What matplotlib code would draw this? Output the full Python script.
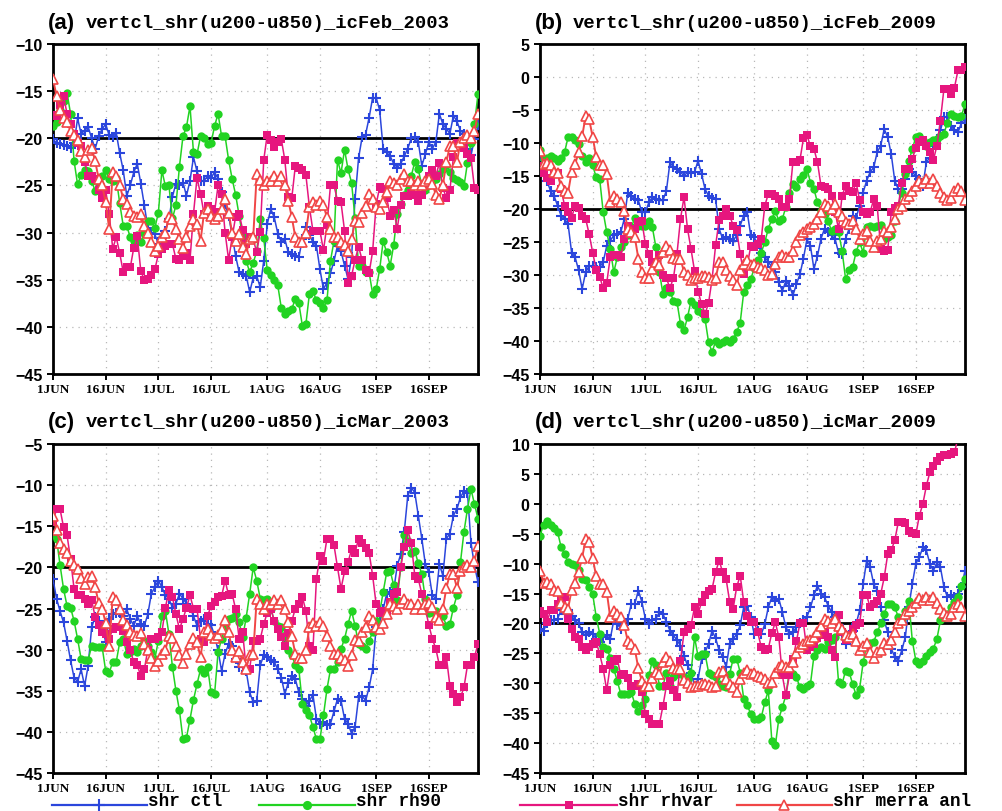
import numpy as np
import matplotlib
matplotlib.use("Agg")
import matplotlib.pyplot as plt
from matplotlib.lines import Line2D

# day index 0 = 1 JUN ... 121 = 30 SEP
tick_days = [0, 15, 30, 45, 61, 76, 92, 107]
tick_labels = ["1JUN", "16JUN", "1JUL", "16JUL", "1AUG", "16AUG", "1SEP", "16SEP"]
series_labels = ["shr ctl", "shr rh90", "shr rhvar", "shr merra anl"]

# merra analysis (same for both initial conditions of a year)
merra_2003 = [
    -13.7, -15.5, -17.0, -17.8, -18.3, -19.2, -19.7, -20.2, -21.3, -22.0,
    -21.2, -21.0, -22.4, -24.3, -25.0, -26.8, -29.6, -23.6, -24.0, -25.0,
    -26.4, -27.0, -27.8, -28.2, -28.4, -28.0, -29.3, -30.0, -31.0, -32.0,
    -31.4, -30.5, -30.0, -28.4, -28.6, -29.6, -30.7, -31.6, -30.5, -29.3,
    -28.6, -29.1, -30.9, -27.9, -27.5, -28.2, -28.6, -28.2, -27.5, -26.4,
    -27.9, -30.0, -30.9, -30.2, -31.5, -32.3, -30.7, -30.5, -23.8, -24.4,
    -25.0, -24.5, -24.5, -24.0, -24.5, -24.0, -25.0, -26.6, -28.4, -30.5,
    -31.0, -31.0, -30.0, -27.3, -26.8, -27.1, -26.6, -27.1, -28.4, -29.6,
    -30.5, -30.5, -31.0, -31.3, -32.0, -30.7, -28.8, -28.9, -27.9, -27.2,
    -25.9, -26.4, -27.3, -27.5, -26.8, -25.7, -24.5, -24.7, -25.0, -24.3,
    -23.8, -24.5, -24.5, -25.0, -24.5, -25.0, -24.5, -24.3, -24.8, -26.0,
    -26.4, -25.0, -22.5, -20.8, -20.8, -22.5, -20.4, -20.0, -19.7, -20.0,
    -19.2, -17.4]
merra_2009 = [
    -11.2, -13.2, -13.0, -13.4, -14.4, -14.5, -16.5, -17.2, -17.5, -14.4,
    -13.2, -11.4, -9.0, -5.9, -6.4, -9.1, -12.1, -13.4, -13.4, -14.7,
    -19.0, -18.0, -18.5, -19.0, -20.3, -23.0, -23.5, -24.3, -27.5, -29.6,
    -30.4, -30.4, -29.1, -28.1, -28.5, -26.5, -25.6, -26.2, -27.4, -27.6,
    -27.6, -29.5, -30.0, -30.7, -30.4, -30.4, -30.1, -30.1, -30.3, -30.7,
    -30.5, -28.1, -28.0, -29.3, -30.2, -30.7, -31.5, -29.3, -28.3, -27.8,
    -28.5, -28.3, -28.8, -29.0, -29.3, -30.0, -29.8, -28.3, -27.3, -27.0,
    -27.2, -27.2, -26.4, -25.0, -24.0, -23.5, -23.0, -22.8, -22.3, -21.5,
    -20.5, -19.2, -19.6, -20.0, -19.3, -20.5, -21.0, -22.0, -22.3, -21.8,
    -23.0, -24.5, -23.8, -23.3, -24.8, -25.8, -24.8, -24.5, -23.3, -23.5,
    -22.8, -21.5, -20.0, -19.5, -18.5, -18.0, -17.2, -16.5, -15.7, -16.0,
    -15.5, -16.0, -15.5, -16.5, -17.5, -18.2, -18.7, -18.4, -17.3, -16.8,
    -17.3, -18.7]

# (a) icFeb 2003
ctl_feb03 = [
    -20.1, -20.5, -20.6, -20.7, -20.8, -21.0, -20.5, -17.9, -19.5, -19.2,
    -18.8, -20.0, -21.1, -19.8, -19.0, -18.5, -19.7, -19.9, -19.4, -21.6,
    -23.4, -26.1, -25.0, -23.6, -22.7, -24.8, -27.1, -29.5, -30.0, -30.2,
    -31.2, -30.6, -29.8, -28.6, -26.2, -24.8, -25.0, -24.7, -26.1, -24.5,
    -22.0, -23.5, -24.5, -24.5, -24.0, -24.2, -23.6, -24.3, -25.7, -27.0,
    -28.2, -30.3, -32.5, -34.2, -34.4, -34.6, -36.3, -34.8, -34.6, -35.8,
    -33.0, -29.1, -27.5, -28.4, -30.1, -31.0, -30.7, -32.1, -32.3, -32.5,
    -32.6, -30.7, -29.4, -30.3, -31.0, -31.4, -33.9, -36.0, -35.3, -34.3,
    -33.0, -31.4, -32.0, -33.5, -34.9, -32.6, -26.4, -22.1, -19.9, -19.6,
    -17.8, -15.7, -15.7, -17.0, -21.1, -21.5, -21.9, -22.7, -23.1, -22.7,
    -21.9, -21.1, -20.0, -19.9, -20.4, -22.9, -21.7, -20.4, -21.1, -20.4,
    -17.4, -18.5, -19.0, -19.5, -17.6, -18.2, -19.2, -19.5, -21.1, -21.8,
    -20.1, -18.6]
rh90_feb03 = [
    -18.7, -18.3, -17.0, -16.0, -15.2, -17.4, -22.4, -24.9, -23.9, -23.4,
    -23.5, -24.5, -25.6, -25.0, -24.0, -23.4, -24.3, -24.5, -24.2, -26.9,
    -29.3, -29.3, -30.5, -30.9, -30.3, -31.0, -30.0, -28.8, -28.8, -29.5,
    -27.9, -23.4, -25.1, -25.0, -28.5, -27.1, -23.0, -19.8, -18.8, -16.6,
    -21.5, -21.7, -19.8, -20.0, -20.6, -20.5, -18.7, -17.4, -19.8, -19.8,
    -22.3, -24.3, -26.0, -28.2, -30.5, -33.0, -34.2, -33.2, -32.0, -28.6,
    -30.6, -34.0, -34.5, -35.0, -35.6, -38.0, -38.6, -38.3, -38.1, -37.0,
    -37.5, -39.9, -39.7, -36.5, -36.2, -37.2, -37.5, -38.0, -37.2, -33.0,
    -30.9, -22.3, -23.7, -21.2, -23.3, -24.7, -28.5, -33.5, -33.5, -34.2,
    -34.2, -36.5, -36.0, -33.9, -30.9, -32.1, -33.5, -31.3, -28.0, -27.0,
    -26.0, -25.5, -24.0, -22.5, -23.3, -25.0, -25.5, -25.0, -24.5, -24.3,
    -23.8, -23.3, -22.8, -23.6, -24.2, -24.4, -24.6, -25.1, -22.6, -20.5,
    -18.5, -15.3]
rhvar_feb03 = [
    -17.5, -17.6, -16.5, -15.5, -17.4, -18.5, -19.5, -20.5, -20.8, -22.5,
    -24.0, -24.0, -24.3, -25.5, -26.3, -25.5, -28.0, -31.7, -30.5, -32.2,
    -34.2, -33.7, -33.7, -31.6, -30.4, -34.1, -35.0, -34.9, -34.5, -33.9,
    -32.3, -31.7, -31.4, -31.2, -31.2, -32.8, -32.9, -32.5, -32.2, -32.9,
    -28.0, -24.2, -25.9, -28.0, -27.2, -27.5, -27.8, -25.0, -25.9, -30.0,
    -32.9, -30.5, -28.3, -28.0, -29.7, -31.2, -30.5, -30.7, -32.1, -29.9,
    -22.3, -19.6, -20.2, -20.9, -20.4, -20.1, -22.3, -26.2, -26.3, -22.9,
    -23.1, -23.4, -23.9, -27.3, -29.8, -29.8, -29.8, -31.9, -29.2, -25.0,
    -25.0, -26.6, -26.8, -29.8, -35.3, -34.6, -32.9, -31.5, -32.9, -34.0,
    -34.3, -32.0, -27.0, -25.2, -25.4, -26.3, -28.2, -27.6, -29.6, -27.1,
    -26.1, -26.1, -25.8, -26.0, -26.6, -26.0, -25.0, -24.0, -23.4, -24.0,
    -22.6, -25.3, -26.3, -25.5, -22.0, -20.5, -20.5, -21.0, -21.7, -22.1,
    -25.3, -25.5]

# (b) icFeb 2009
ctl_feb09 = [
    -12.0, -13.9, -15.7, -17.3, -18.0, -19.5, -21.0, -21.5, -22.3, -26.6,
    -27.3, -29.3, -32.1, -29.6, -28.6, -28.6, -28.8, -28.8, -28.0, -25.6,
    -24.8, -24.0, -23.8, -23.5, -21.5, -17.5, -18.0, -18.5, -18.7, -20.5,
    -20.5, -19.0, -18.2, -18.5, -18.7, -18.7, -17.2, -12.9, -13.7, -13.9,
    -14.4, -15.0, -14.4, -14.5, -14.4, -12.7, -14.7, -17.0, -18.0, -18.3,
    -18.5, -23.0, -24.5, -24.3, -24.5, -24.8, -24.0, -22.5, -21.0, -20.5,
    -24.0, -24.3, -25.3, -26.6, -27.3, -28.0, -28.8, -29.6, -31.1, -32.4,
    -30.9, -31.6, -33.1, -31.4, -29.9, -27.5, -24.6, -25.6, -29.1, -27.1,
    -24.5, -23.0, -23.5, -24.0, -24.5, -26.6, -26.8, -24.5, -23.0, -21.0,
    -21.3, -19.5, -17.5, -15.7, -14.4, -13.7, -11.4, -10.4, -7.9, -9.1,
    -11.7, -15.7, -17.0, -17.0, -15.5, -14.0, -14.4, -15.0, -15.5, -16.5,
    -12.9, -12.2, -10.4, -9.4, -8.1, -6.1, -6.1, -7.4, -8.1, -8.4,
    -6.9, -6.4]
rh90_feb09 = [
    -11.0, -12.4, -12.2, -12.0, -12.2, -12.7, -12.2, -11.4, -9.1, -9.1,
    -9.5, -10.2, -11.9, -12.9, -12.3, -13.4, -15.2, -15.5, -20.5, -23.5,
    -26.0, -29.6, -27.3, -25.8, -25.0, -24.0, -22.8, -21.3, -22.5, -22.5,
    -22.5, -21.8, -22.8, -25.8, -29.5, -32.9, -31.9, -32.5, -33.9, -34.1,
    -37.4, -38.4, -36.4, -33.9, -34.6, -35.4, -35.7, -36.7, -40.2, -41.7,
    -40.0, -40.4, -40.2, -39.8, -40.2, -39.7, -38.7, -37.2, -32.6, -31.5,
    -30.6, -29.0, -27.8, -26.6, -25.0, -23.0, -21.5, -20.3, -21.8, -21.5,
    -19.7, -17.5, -16.2, -16.7, -15.4, -14.9, -13.9, -16.0, -17.0, -19.0,
    -20.3, -20.8, -21.8, -23.3, -23.0, -23.5, -26.3, -30.6, -29.3, -28.8,
    -26.5, -25.0, -26.6, -22.8, -22.5, -22.8, -22.6, -22.4, -24.5, -24.3,
    -24.0, -21.8, -19.5, -17.5, -14.7, -12.7, -10.9, -9.1, -8.9, -9.6,
    -10.4, -9.9, -9.6, -9.4, -9.0, -8.6, -6.9, -5.6, -5.9, -6.1,
    -5.9, -4.1]
rhvar_feb09 = [
    -13.5, -14.6, -15.3, -15.7, -14.5, -14.5, -17.0, -19.5, -20.5, -21.3,
    -19.5, -19.8, -21.0, -21.5, -23.8, -26.6, -29.2, -30.3, -32.0, -31.2,
    -27.3, -27.0, -27.0, -27.3, -24.5, -22.5, -23.8, -23.0, -22.0, -21.8,
    -25.3, -26.8, -28.0, -28.5, -27.0, -30.0, -30.5, -32.0, -30.4, -26.8,
    -21.5, -18.2, -23.0, -26.1, -29.4, -32.5, -34.4, -35.9, -34.2, -30.6,
    -25.5, -21.7, -21.0, -20.0, -21.0, -22.5, -23.2, -26.8, -29.8, -28.6,
    -25.6, -25.8, -25.3, -24.5, -19.5, -17.7, -17.8, -18.0, -18.5, -19.7,
    -19.7, -18.5, -12.9, -12.9, -12.6, -9.3, -8.8, -10.5, -10.9, -12.9,
    -16.5, -16.6, -17.0, -18.0, -20.5, -23.0, -18.0, -16.5, -17.3, -17.4,
    -16.0, -18.7, -20.5, -20.8, -20.5, -18.5, -19.5, -26.0, -26.3, -26.2,
    -20.5, -19.8, -19.5, -16.0, -14.0, -14.0, -12.4, -10.7, -9.8, -9.5,
    -10.4, -11.4, -12.6, -10.4, -6.6, -1.8, -1.8, -2.5, -1.6, 1.0,
    1.0, 1.5]

# (c) icMar 2003
ctl_mar03 = [
    -21.4, -23.8, -25.3, -26.7, -28.9, -31.3, -33.4, -33.9, -32.4, -34.4,
    -32.0, -27.3, -26.0, -26.5, -27.1, -29.1, -26.3, -25.7, -25.5, -25.5,
    -25.9, -25.1, -26.3, -27.1, -25.9, -26.9, -27.1, -25.7, -23.2, -22.4,
    -21.6, -22.4, -23.4, -23.8, -24.9, -24.4, -23.2, -23.8, -24.4, -24.9,
    -25.9, -27.1, -26.5, -26.3, -26.9, -27.0, -28.3, -30.1, -32.6, -30.5,
    -29.3, -29.5, -31.1, -32.1, -32.1, -32.6, -35.2, -36.4, -36.2, -31.9,
    -30.7, -30.9, -31.3, -31.5, -32.4, -33.4, -35.4, -34.0, -33.2, -33.6,
    -35.2, -36.0, -36.8, -36.2, -35.5, -38.4, -39.0, -38.8, -39.2, -39.0,
    -37.5, -36.0, -36.2, -38.4, -39.0, -40.2, -39.4, -35.8, -35.6, -36.2,
    -34.6, -32.4, -27.3, -26.7, -25.1, -23.2, -23.0, -22.8, -19.8, -18.4,
    -15.7, -11.3, -10.3, -10.9, -13.7, -16.5, -19.6, -20.6, -23.4, -23.8,
    -19.6, -21.0, -16.5, -15.9, -13.7, -12.9, -11.5, -10.7, -10.9, -17.0,
    -19.8, -21.8]
rh90_mar03 = [
    -16.1, -16.5, -19.7, -22.6, -24.7, -24.9, -26.5, -28.7, -31.1, -31.3,
    -31.3, -29.5, -29.7, -29.7, -29.7, -32.6, -32.8, -31.5, -31.5, -29.1,
    -28.7, -30.5, -30.3, -29.9, -30.3, -29.5, -28.9, -29.5, -30.3, -31.1,
    -28.9, -25.9, -25.3, -28.1, -32.1, -35.0, -37.4, -40.9, -40.7, -38.5,
    -36.1, -34.2, -32.4, -32.8, -32.1, -35.2, -35.4, -30.3, -28.7, -27.3,
    -26.3, -26.2, -25.7, -26.7, -28.5, -26.1, -23.2, -20.0, -21.6, -23.8,
    -24.0, -23.8, -25.0, -26.5, -27.1, -27.2, -28.7, -30.1, -30.7, -31.9,
    -32.4, -36.6, -37.4, -38.0, -39.4, -40.9, -40.9, -38.0, -34.8, -32.4,
    -32.4, -31.5, -29.9, -28.7, -26.9, -25.3, -27.1, -29.3, -29.5, -29.9,
    -28.9, -27.9, -26.5, -25.5, -23.0, -20.6, -20.4, -22.2, -24.0, -20.0,
    -16.1, -16.8, -18.2, -18.0, -19.5, -20.8, -23.8, -25.5, -25.4, -25.3,
    -25.7, -25.9, -27.1, -26.9, -24.9, -23.4, -19.4, -15.7, -12.9, -10.5,
    -12.3, -14.1]
rhvar_mar03 = [
    -14.5, -12.9, -12.9, -15.1, -16.1, -19.0, -22.6, -23.4, -23.4, -23.8,
    -24.4, -24.0, -26.0, -27.0, -27.9, -28.1, -28.7, -27.5, -27.3, -27.3,
    -27.7, -29.1, -30.1, -31.5, -31.9, -33.2, -32.4, -30.0, -28.7, -28.7,
    -28.5, -27.9, -24.9, -22.8, -23.6, -25.7, -27.5, -26.3, -24.9, -23.4,
    -25.0, -25.0, -28.7, -29.1, -25.9, -24.7, -24.2, -23.6, -23.5, -21.6,
    -23.4, -23.2, -25.1, -28.7, -27.9, -32.4, -32.4, -28.9, -28.9, -28.7,
    -26.9, -25.5, -25.0, -26.5, -27.5, -28.5, -29.5, -28.0, -26.5, -25.0,
    -24.5, -23.6, -25.3, -29.5, -30.1, -21.4, -18.6, -19.2, -16.5, -16.5,
    -17.3, -20.0, -22.6, -20.5, -19.4, -17.8, -18.2, -16.5, -17.0, -17.6,
    -18.2, -21.0, -24.5, -25.5, -25.3, -25.5, -24.2, -23.2, -23.0, -20.0,
    -17.5, -15.5, -17.0, -21.0, -21.4, -23.2, -25.0, -27.0, -28.7, -29.9,
    -31.9, -31.9, -30.9, -34.4, -35.4, -36.4, -35.8, -34.6, -31.9, -31.9,
    -30.9, -29.3]

# (d) icMar 2009
ctl_mar09 = [
    -20.9, -21.2, -20.0, -19.5, -19.5, -19.2, -17.8, -18.4, -17.8, -18.7,
    -19.5, -20.0, -21.5, -22.0, -21.5, -21.7, -22.6, -23.1, -22.3, -22.0,
    -22.6, -19.5, -20.1, -20.9, -20.3, -19.2, -16.7, -16.7, -14.5, -16.4,
    -19.2, -20.1, -19.5, -19.2, -18.1, -18.4, -19.8, -21.2, -22.0, -22.8,
    -23.7, -25.4, -27.0, -28.2, -30.4, -29.3, -26.0, -24.8, -23.4, -21.2,
    -22.5, -24.5, -25.6, -27.3, -23.4, -22.6, -21.8, -20.3, -17.3, -17.0,
    -19.0, -21.8, -21.2, -21.8, -20.1, -17.3, -15.6, -16.2, -15.9, -18.1,
    -20.6, -21.8, -21.5, -20.6, -20.0, -19.5, -18.9, -17.3, -15.3, -13.7,
    -15.0, -15.6, -17.0, -18.1, -18.9, -20.3, -21.8, -23.4, -22.0, -21.2,
    -20.1, -17.8, -13.4, -9.5, -10.6, -13.4, -14.5, -17.3, -19.5, -21.5,
    -24.2, -25.6, -26.2, -24.5, -22.3, -17.3, -13.4, -10.0, -8.9, -7.3,
    -7.8, -10.0, -11.2, -9.8, -10.6, -13.9, -15.6, -15.3, -15.5, -15.0,
    -13.9, -11.2]
rh90_mar09 = [
    -5.3, -3.5, -2.8, -3.5, -4.1, -4.7, -7.2, -8.4, -9.8, -10.1,
    -10.3, -11.1, -12.5, -12.8, -13.9, -15.1, -18.9, -21.7, -24.0, -24.2,
    -25.7, -27.6, -29.6, -31.8, -31.8, -31.8, -31.5, -33.5, -34.6, -33.7,
    -32.6, -28.7, -26.2, -27.0, -30.4, -30.4, -28.2, -30.4, -29.0, -28.5,
    -28.2, -29.0, -29.3, -28.2, -22.3, -25.5, -25.1, -25.1, -28.2, -28.7,
    -29.0, -30.1, -30.4, -30.7, -28.4, -25.9, -25.9, -28.2, -32.6, -33.7,
    -35.1, -35.9, -35.9, -35.7, -33.2, -31.2, -39.6, -40.4, -35.9, -34.0,
    -32.0, -27.9, -28.4, -29.0, -30.6, -30.9, -30.5, -30.1, -25.4, -24.5,
    -24.0, -24.3, -23.1, -22.7, -22.3, -29.8, -30.1, -27.9, -28.1, -30.1,
    -32.0, -30.9, -26.5, -23.5, -23.3, -23.1, -21.5, -20.0, -18.4, -16.7,
    -16.7, -17.3, -18.9, -19.2, -18.0, -16.2, -22.9, -26.2, -26.7, -26.2,
    -25.4, -24.8, -24.2, -22.6, -19.5, -18.9, -18.4, -17.3, -16.4, -15.6,
    -13.7, -12.6]
rhvar_mar09 = [
    -18.0, -18.4, -19.8, -17.8, -17.8, -16.7, -15.9, -15.6, -19.2, -20.9,
    -22.3, -22.6, -24.0, -24.5, -24.0, -23.4, -23.1, -25.1, -27.6, -31.2,
    -27.0, -26.2, -25.9, -28.7, -28.4, -29.2, -30.4, -30.4, -30.1, -31.5,
    -35.1, -36.0, -36.8, -36.8, -36.8, -33.8, -30.4, -29.6, -31.2, -32.3,
    -26.2, -21.5, -20.9, -20.3, -17.3, -18.4, -16.4, -15.3, -14.5, -14.2,
    -11.4, -9.5, -11.4, -12.6, -16.4, -17.5, -13.9, -12.0, -16.4, -18.7,
    -19.8, -19.8, -21.5, -24.0, -24.4, -24.2, -21.6, -19.8, -22.3, -28.7,
    -32.0, -28.7, -26.0, -23.0, -20.0, -20.0, -24.5, -24.0, -23.4, -22.5,
    -21.9, -21.5, -22.3, -24.4, -25.6, -18.6, -21.5, -22.8, -22.0, -21.0,
    -20.3, -20.0, -15.3, -15.3, -17.3, -16.7, -16.2, -15.1, -12.3, -8.4,
    -7.8, -6.1, -3.1, -3.1, -3.2, -4.5, -4.8, -5.1, -2.0, 0.0,
    3.0, 5.3, 6.4, 7.2, 7.8, 8.1, 8.2, 8.3, 8.6, 11.0,
    12.0, 13.0]

panels = [
    ("(a)", "vertcl_shr(u200-u850)_icFeb_2003", (-45, -10),
     [ctl_feb03, rh90_feb03, rhvar_feb03, merra_2003]),
    ("(b)", "vertcl_shr(u200-u850)_icFeb_2009", (-45, 5),
     [ctl_feb09, rh90_feb09, rhvar_feb09, merra_2009]),
    ("(c)", "vertcl_shr(u200-u850)_icMar_2003", (-45, -5),
     [ctl_mar03, rh90_mar03, rhvar_mar03, merra_2003]),
    ("(d)", "vertcl_shr(u200-u850)_icMar_2009", (-45, 10),
     [ctl_mar09, rh90_mar09, rhvar_mar09, merra_2009]),
]

styles = [
    dict(color="#2b46dc", marker="+", ms=7.5, mew=1.5, lw=1.1),
    dict(color="#22d322", marker="o", ms=6.0, mew=0, lw=1.1),
    dict(color="#e6167e", marker="s", ms=5.6, mew=0, lw=1.1),
    dict(color="#f04646", marker="^", ms=6.5, mew=1.2, mfc="white", lw=1.4),
]

W, H = 1003, 812
positions = [
    [53 / W, 1 - 375 / H, 425 / W, 330 / H],
    [540 / W, 1 - 375 / H, 425 / W, 330 / H],
    [53 / W, 1 - 774 / H, 425 / W, 329 / H],
    [540 / W, 1 - 774 / H, 425 / W, 329 / H],
]

sans = ["Liberation Sans", "DejaVu Sans"]
serif = ["Liberation Serif", "DejaVu Serif"]
mono = ["Liberation Mono", "DejaVu Sans Mono"]

fig = plt.figure(figsize=(W / 100, H / 100), dpi=100)
fig.patch.set_facecolor("white")

for pos, (letter, title, (ymin, ymax), data) in zip(positions, panels):
    ax = fig.add_axes(pos)
    for vals, st in zip(data, styles):
        ax.plot(np.arange(len(vals)), vals, **st, zorder=3)
    ax.axhline(-20, color="black", lw=2.0, zorder=2)
    ax.set_xlim(0, 121)
    ax.set_ylim(ymin, ymax)
    ax.set_xticks(tick_days)
    ax.set_xticklabels(tick_labels, family=serif, fontweight="bold", fontsize=9.5)
    yt = np.arange(ymin, ymax + 1, 5)
    ax.set_yticks(yt)
    ax.set_yticklabels(["%d" % v if v >= 0 else "\u2212%d" % -v for v in yt],
                       family=sans, fontweight="bold", fontsize=11.5)
    ax.tick_params(direction="out", length=4.5, width=1.4, pad=2)
    ax.tick_params(axis="y", pad=3)
    ax.grid(True, linestyle=(0, (1, 4)), color="#b8b8b8", lw=0.9, zorder=0)
    for sp in ax.spines.values():
        sp.set_linewidth(2.0)
    ty = 1 + 22 / (pos[3] * H)
    ax.text(-0.012, ty, letter, transform=ax.transAxes, family=sans,
            fontweight="bold", fontsize=16, va="center", ha="left")
    ax.text(0.078, ty, title, transform=ax.transAxes, family=mono,
            fontweight="bold", fontsize=13.6, va="center", ha="left")

# legend row under the bottom panels
key_spans = [(52, 147), (259, 355), (520, 617), (737, 832)]
ky = 1 - 806 / H
for (x0, x1), st, lab in zip(key_spans, styles, series_labels):
    fig.add_artist(Line2D([x0 / W, x1 / W], [ky, ky], transform=fig.transFigure,
                          color=st["color"], lw=1.6))
    mk = dict(st)
    mk.pop("lw")
    mk["ms"] = mk["ms"] * 1.1
    fig.add_artist(Line2D([(x0 + x1) / 2 / W], [ky], transform=fig.transFigure,
                          linestyle="none", **mk))
    fig.text((x1 + 1) / W, 1 - 802 / H, lab, family=mono, fontweight="bold",
             fontsize=12.8, va="center", ha="left")

fig.savefig("out.png", dpi=100, facecolor="white")
